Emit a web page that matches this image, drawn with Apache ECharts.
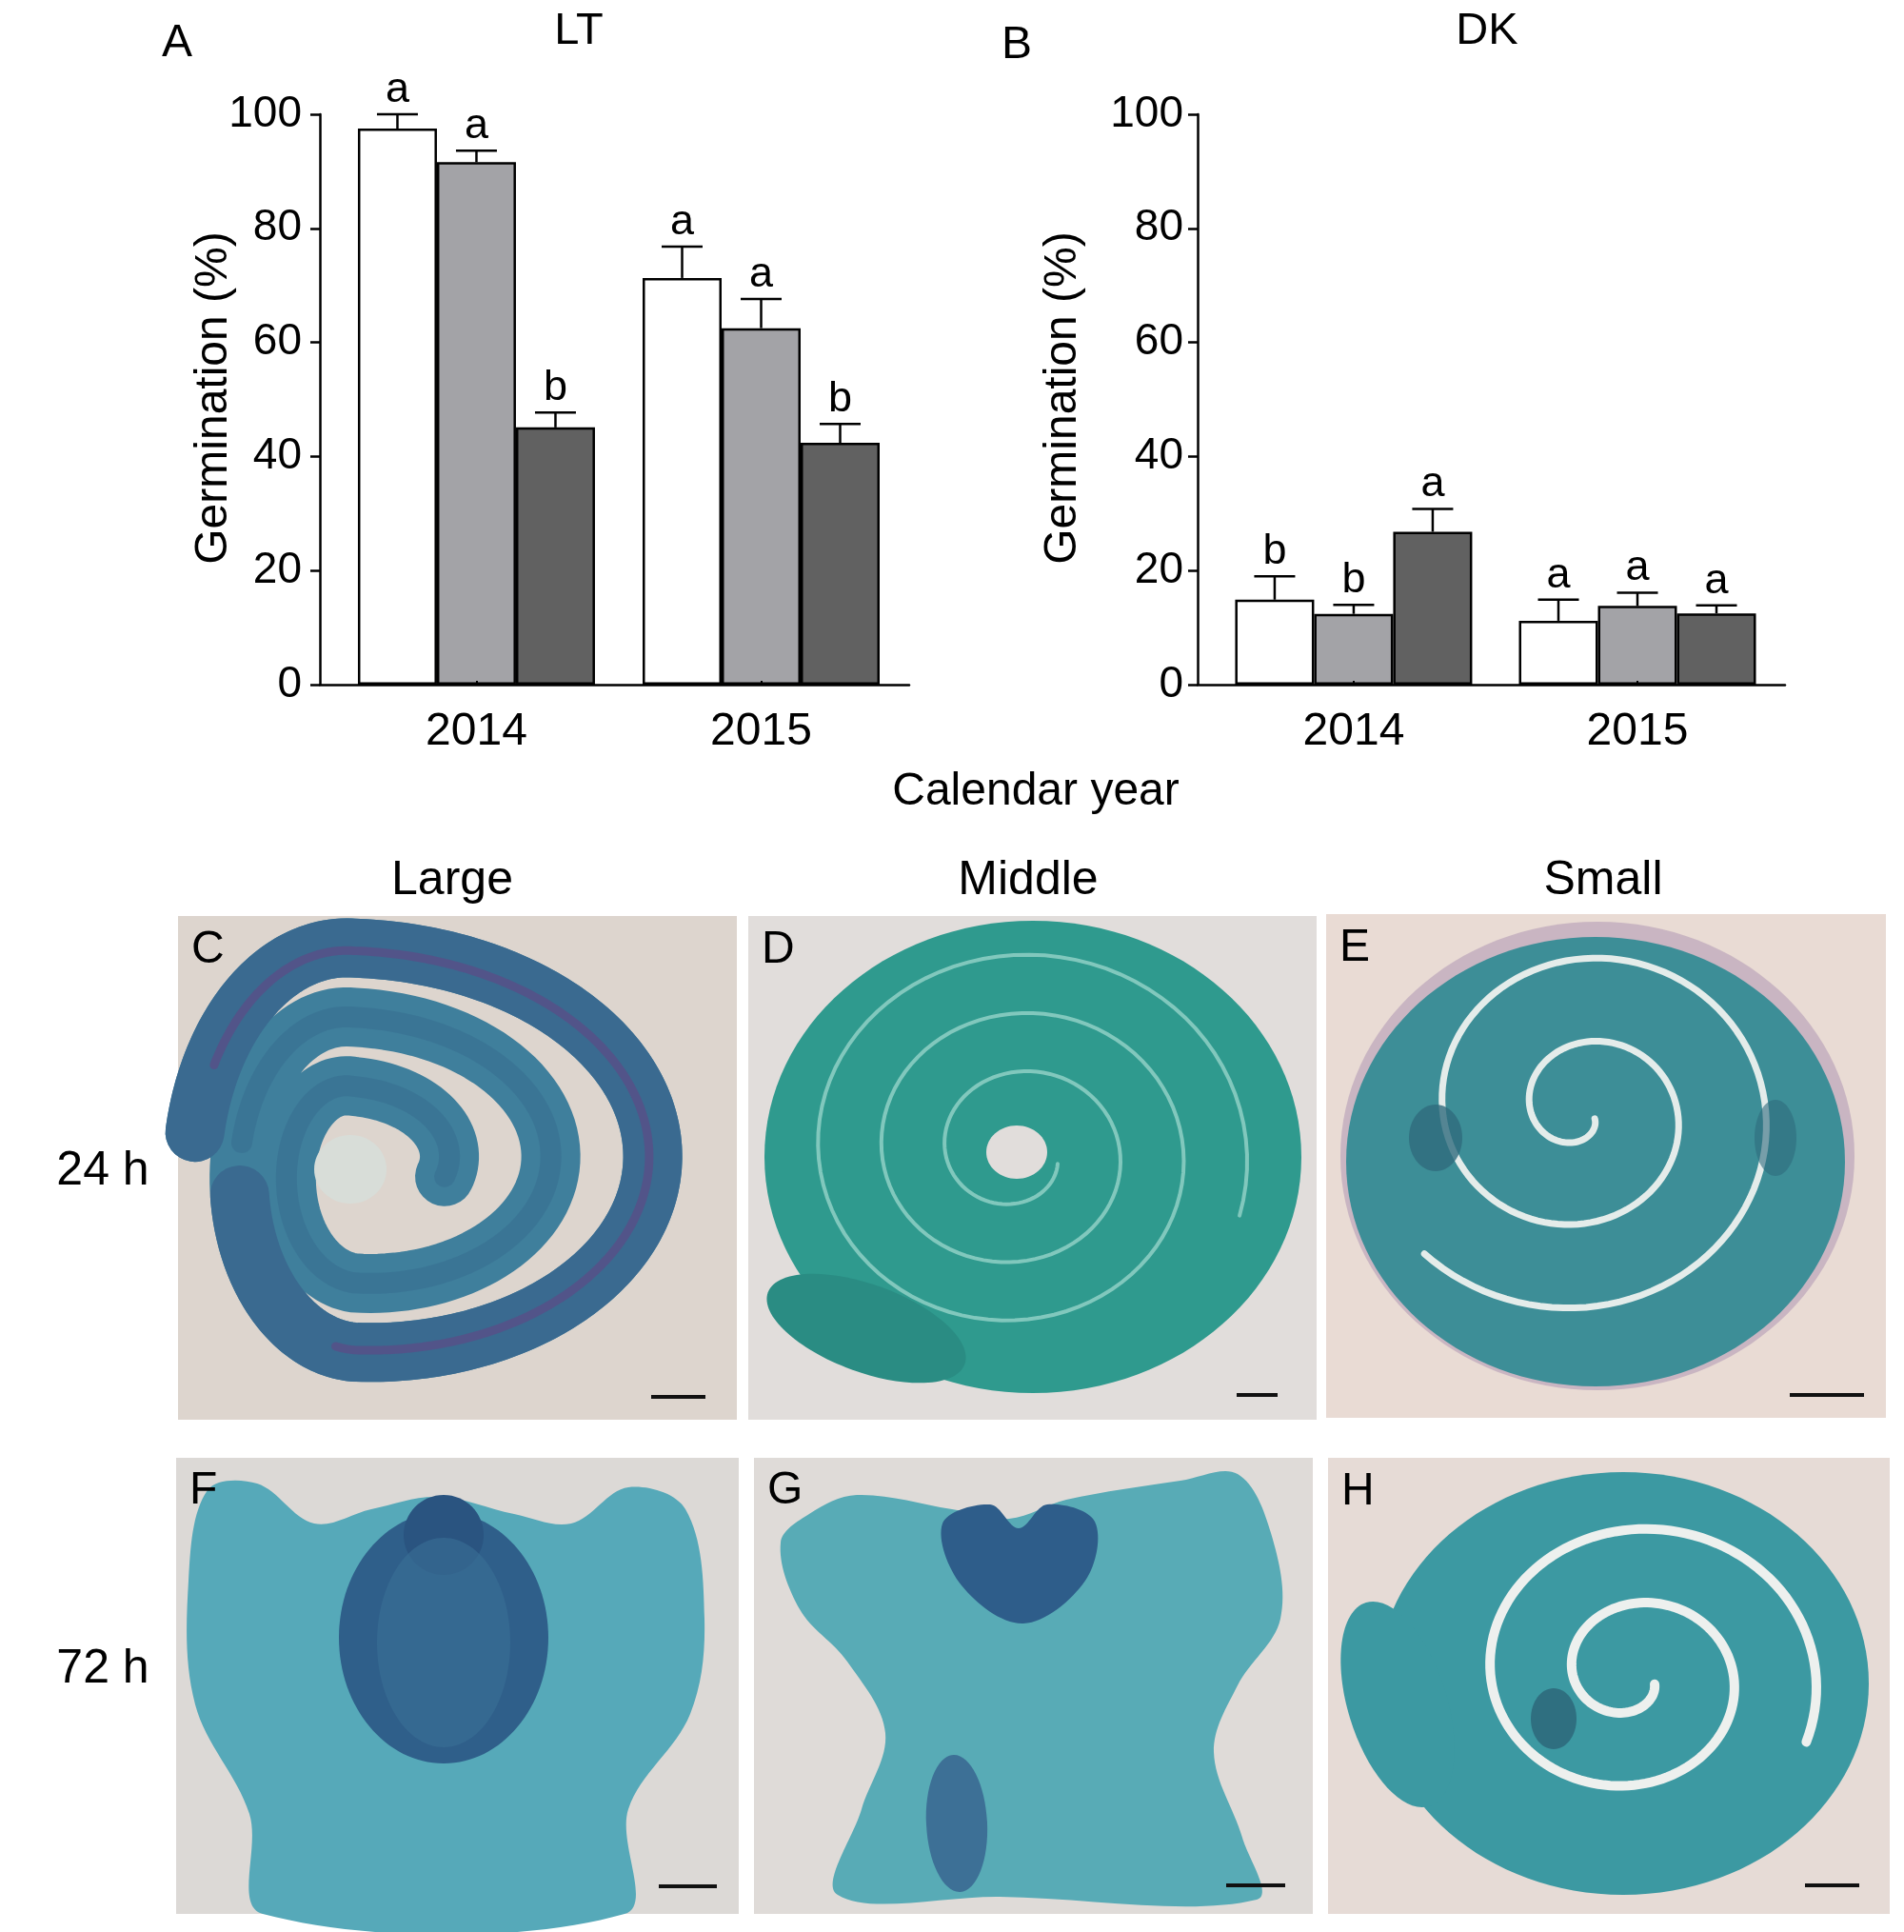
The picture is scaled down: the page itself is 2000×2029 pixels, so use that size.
<!DOCTYPE html>
<html><head><meta charset="utf-8">
<script src="https://cdn.jsdelivr.net/npm/echarts@6/dist/echarts.min.js"></script>
<style>html,body{margin:0;padding:0;background:#fff}#c{width:2000px;height:2029px}</style>
</head><body><div id="c"></div>
<script>
// ---------- data ----------
const years = ['2014', '2015'];
const sizeNames = ['Large', 'Middle', 'Small'];
const timeLabels = ['24 h', '72 h'];
const yTicks = [0, 20, 40, 60, 80, 100];

// Panel A : LT
const ltLarge = [97.5, 71.3];
const ltLargeErr = [2.5, 5.5];
const ltLargeSig = ['a', 'a'];
const ltMiddle = [91.6, 62.5];
const ltMiddleErr = [2.0, 5.1];
const ltMiddleSig = ['a', 'a'];
const ltSmall = [45.1, 42.4];
const ltSmallErr = [2.6, 3.3];
const ltSmallSig = ['b', 'b'];

// Panel B : DK
const dkLarge = [14.9, 11.2];
const dkLargeErr = [4.1, 3.7];
const dkLargeSig = ['b', 'a'];
const dkMiddle = [12.4, 13.8];
const dkMiddleErr = [1.6, 2.3];
const dkMiddleSig = ['b', 'a'];
const dkSmall = [26.8, 12.5];
const dkSmallErr = [4.0, 1.4];
const dkSmallSig = ['a', 'a'];

// ---------- styles ----------
const FONT = '"Liberation Sans", Arial, sans-serif';
const BAR_W = 83;
const CAP_W = 43;
const barColors = ['#ffffff', '#a3a3a7', '#616161'];

const chart = echarts.init(document.getElementById('c'), null, {renderer: 'canvas'});

function barSeries(grid, values, color) {
  return {
    type: 'bar', xAxisIndex: grid, yAxisIndex: grid,
    data: values.map((v, i) => [i, v]),
    barWidth: BAR_W, barGap: '0%',
    itemStyle: {color: color, borderColor: '#000', borderWidth: 2.5},
    silent: true, z: 2
  };
}

function errSeries(grid, groups) {
  const items = [];
  groups.forEach((g, s) => {
    g.mean.forEach((m, i) => items.push({value: [i, m, g.err[i], s], sig: g.sig[i]}));
  });
  return {
    type: 'custom', xAxisIndex: grid, yAxisIndex: grid, z: 5, silent: true,
    encode: {x: 0, y: 1},
    data: items.map(d => ({value: d.value})),
    renderItem: function (params, api) {
      const x = api.value(0), m = api.value(1), e = api.value(2), s = api.value(3);
      const base = api.coord([x, m]);
      const top = api.coord([x, m + e]);
      const cx = base[0] + (s - 1) * BAR_W;
      const sig = items[params.dataIndex].sig;
      return {type: 'group', children: [
        {type: 'line', shape: {x1: cx, y1: base[1], x2: cx, y2: top[1]}, style: {stroke: '#000', lineWidth: 2.5}},
        {type: 'line', shape: {x1: cx - CAP_W / 2, y1: top[1], x2: cx + CAP_W / 2, y2: top[1]}, style: {stroke: '#000', lineWidth: 2.5}},
        {type: 'text', x: cx, y: top[1] - 3, style: {text: sig, fontSize: 45, fontFamily: FONT, fill: '#000', align: 'center', verticalAlign: 'bottom'}}
      ]};
    }
  };
}

function xAx(grid) {
  return {
    gridIndex: grid, type: 'value', min: -0.55, max: 1.52, z: 6,
    axisLine: {show: true, onZero: false, lineStyle: {color: '#000', width: 2.5}},
    splitLine: {show: false},
    axisTick: {show: true, inside: true, length: 4, customValues: [0, 1], lineStyle: {color: '#000', width: 2}},
    axisLabel: {customValues: [0, 1], formatter: v => (Number.isInteger(v) && years[v]) ? years[v] : '',
      fontSize: 48, fontFamily: FONT, color: '#000', margin: 26}
  };
}
function yAx(grid, margin) {
  return {
    gridIndex: grid, type: 'value', min: yTicks[0], max: yTicks[yTicks.length - 1], interval: 20,
    axisLine: {show: true, onZero: false, lineStyle: {color: '#000', width: 2.5}},
    splitLine: {show: false},
    axisTick: {show: true, inside: false, length: 10, lineStyle: {color: '#000', width: 2.5}},
    axisLabel: {fontSize: 46, fontFamily: FONT, color: '#000', margin: margin}
  };
}

// ---------- decorative micrograph panels ----------
function spiralPts(cx, cy, r0, r1, turns, a0, sy, dir) {
  const pts = [];
  const N = 260;
  for (let k = 0; k <= N; k++) {
    const t = k / N;
    const r = r0 + (r1 - r0) * t;
    const a = a0 + dir * t * turns * 2 * Math.PI;
    pts.push([cx + r * Math.cos(a), cy + r * sy * Math.sin(a)]);
  }
  return pts;
}
// eccentric spiral: different x stretch on right / left side
function spiralEcc(cx, cy, r0, r1, turns, a0, kxR, kxL, ky, dir, t0, t1) {
  const pts = [];
  const N = 320;
  for (let k = 0; k <= N; k++) {
    const t = t0 + (t1 - t0) * k / N;
    const r = r0 + (r1 - r0) * t;
    const a = a0 + dir * t * turns * 2 * Math.PI;
    const c = Math.cos(a);
    const kx = c > 0 ? kxR : kxL;
    pts.push([cx + r * c * kx, cy + r * ky * Math.sin(a)]);
  }
  return pts;
}
function bg(x, y, w, h, c) { return {type: 'rect', shape: {x, y, width: w, height: h}, style: {fill: c}}; }
function pl(points, stroke, lw, op) { return {type: 'polyline', shape: {points}, style: {stroke, lineWidth: lw, fill: null, lineCap: 'round', opacity: op == null ? 1 : op}}; }
function el(cx, cy, rx, ry, fill, rot, op) { return {type: 'ellipse', shape: {cx: 0, cy: 0, rx, ry}, x: cx, y: cy, rotation: rot || 0, style: {fill, opacity: op == null ? 1 : op}}; }
function pg(points, fill, op) { return {type: 'polygon', shape: {points, smooth: 0.35}, style: {fill, opacity: op == null ? 1 : op}}; }
function txt(x, y, s, size, align, rot) {
  return {type: 'text', x, y, rotation: rot || 0, style: {text: s, fontSize: size, fontFamily: FONT, fill: '#000', align: align || 'center', verticalAlign: 'middle'}};
}
function sbar(x1, x2, y) { return {type: 'line', shape: {x1, y1: y, x2, y2: y}, style: {stroke: '#111', lineWidth: 4}}; }

const deco = [];
// C
deco.push(bg(187, 962, 587, 529, '#ddd5ce'));
deco.push(pl(spiralEcc(372, 1226, 62, 235, 2.5, 0.15, 1.55, 0.72, 1.05, -1, 0, 1), '#3f7f9c', 62));
deco.push(pl(spiralEcc(372, 1226, 62, 235, 2.5, 0.15, 1.55, 0.72, 1.05, -1, 0.62, 1), '#3a6a90', 62));
deco.push(pl(spiralEcc(372, 1226, 62, 232, 2.5, 0.15, 1.55, 0.72, 1.05, -1, 0.7, 0.98), '#5d4c86', 9, 0.7));
deco.push(pl(spiralEcc(372, 1226, 62, 235, 2.5, 0.15, 1.55, 0.72, 1.05, -1, 0, 0.6), '#35668c', 22, 0.4));
deco.push(el(368, 1228, 38, 36, '#d8ddd8'));
// D
deco.push(bg(786, 962, 597, 529, '#e1dddb'));
deco.push(el(1085, 1215, 282, 248, '#2f9a8e'));
deco.push(el(910, 1395, 110, 46, '#2a8c83', -0.35));
deco.push(pl(spiralPts(1068, 1210, 45, 245, 3.0, 0.3, 0.92, 1), '#8fd0c5', 4, 0.85));
deco.push(el(1068, 1210, 32, 28, '#e1dddb'));
// E
deco.push(bg(1393, 960, 588, 529, '#e9dbd4'));
deco.push(el(1678, 1214, 270, 246, '#a98fb0', 0, 0.5));
deco.push(el(1676, 1220, 262, 236, '#3d8e97'));
deco.push(pl(spiralPts(1662, 1168, 15, 228, 2.3, 0.5, 0.95, 1), '#e4ecea', 7));
deco.push(el(1508, 1195, 28, 35, '#2f6b7d', 0, 0.8));
deco.push(el(1865, 1195, 22, 40, '#2f6b7d', 0, 0.6));
// F
deco.push(bg(185, 1531, 591, 479, '#dcd9d6'));
deco.push(pg([[218, 1565], [270, 1558], [330, 1600], [390, 1585], [460, 1572], [540, 1590], [600, 1600], [660, 1562], [720, 1585], [740, 1700], [725, 1800], [660, 1900], [656, 2010], [276, 2010], [262, 1905], [205, 1790], [198, 1660]], '#56a9b9'));
deco.push(el(466, 1720, 110, 132, '#2f5f8a'));
deco.push(el(466, 1612, 42, 42, '#2a5480'));
deco.push(el(466, 1725, 70, 110, '#3a6f96', 0, 0.6));
// G
deco.push(bg(792, 1531, 587, 479, '#dfdbd8'));
deco.push(pg([[850, 1590], [900, 1570], [1000, 1585], [1060, 1595], [1120, 1575], [1240, 1555], [1300, 1548], [1335, 1610], [1345, 1700], [1300, 1770], [1275, 1840], [1305, 1930], [1320, 1995], [1050, 1992], [880, 1990], [905, 1900], [930, 1820], [890, 1745], [840, 1690], [820, 1620]], '#58abb6'));
deco.push(pg([[990, 1600], [1040, 1580], [1070, 1605], [1100, 1580], [1150, 1598], [1140, 1660], [1075, 1705], [1010, 1665]], '#2e5d8a'));
deco.push(el(1005, 1915, 32, 72, '#3d7096', 0.05));
// H
deco.push(bg(1395, 1531, 590, 479, '#e6dbd6'));
deco.push(el(1705, 1768, 258, 222, '#3c99a2'));
deco.push(el(1468, 1790, 52, 112, '#3c99a2', 0.3));
deco.push(pl(spiralPts(1715, 1760, 25, 198, 2.0, 0.4, 0.9, 1), '#edf0ee', 10));
deco.push(el(1632, 1805, 24, 32, '#2f6f80'));

// texts
const texts = [
  txt(186, 46, 'A', 48), txt(608, 33, 'LT', 47),
  txt(1068, 48, 'B', 48), txt(1562, 33, 'DK', 47),
  txt(225, 418, 'Germination (%)', 48, 'center', Math.PI / 2),
  txt(1117, 418, 'Germination (%)', 48, 'center', Math.PI / 2),
  txt(1088, 832, 'Calendar year', 48),
  txt(475, 925, sizeNames[0], 50), txt(1080, 925, sizeNames[1], 50), txt(1684, 925, sizeNames[2], 50),
  txt(108, 1230, timeLabels[0], 50), txt(108, 1753, timeLabels[1], 50),
  txt(201, 998, 'C', 48, 'left'), txt(800, 998, 'D', 48, 'left'), txt(1407, 996, 'E', 48, 'left'),
  txt(199, 1566, 'F', 48, 'left'), txt(806, 1566, 'G', 48, 'left'), txt(1409, 1567, 'H', 48, 'left'),
  sbar(684, 741, 1467), sbar(1299, 1342, 1465), sbar(1880, 1958, 1465),
  sbar(692, 753, 1981), sbar(1288, 1350, 1980), sbar(1896, 1953, 1980)
];

const option = {
  backgroundColor: '#ffffff',
  animation: false,
  grid: [
    {left: 336, top: 120, width: 619, height: 599, containLabel: false},
    {left: 1258, top: 120, width: 617, height: 599, containLabel: false}
  ],
  xAxis: [xAx(0), xAx(1)],
  yAxis: [yAx(0, 19), yAx(1, 15)],
  series: [
    barSeries(0, ltLarge, barColors[0]),
    barSeries(0, ltMiddle, barColors[1]),
    barSeries(0, ltSmall, barColors[2]),
    errSeries(0, [
      {mean: ltLarge, err: ltLargeErr, sig: ltLargeSig},
      {mean: ltMiddle, err: ltMiddleErr, sig: ltMiddleSig},
      {mean: ltSmall, err: ltSmallErr, sig: ltSmallSig}]),
    barSeries(1, dkLarge, barColors[0]),
    barSeries(1, dkMiddle, barColors[1]),
    barSeries(1, dkSmall, barColors[2]),
    errSeries(1, [
      {mean: dkLarge, err: dkLargeErr, sig: dkLargeSig},
      {mean: dkMiddle, err: dkMiddleErr, sig: dkMiddleSig},
      {mean: dkSmall, err: dkSmallErr, sig: dkSmallSig}])
  ],
  graphic: {elements: deco.concat(texts)}
};
chart.setOption(option);
</script>
</body></html>
